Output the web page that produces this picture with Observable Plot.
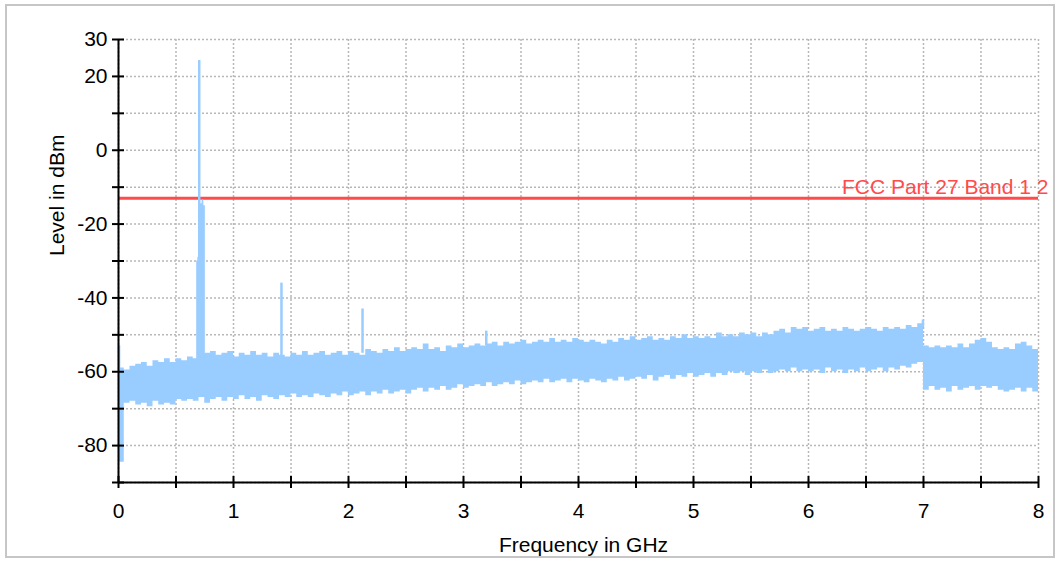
<!DOCTYPE html>
<html><head><meta charset="utf-8">
<script src="https://cdn.jsdelivr.net/npm/d3@7"></script>
<script src="https://cdn.jsdelivr.net/npm/@observablehq/plot@0.6"></script>
<style>
html,body{margin:0;padding:0;background:#fff;}
#wrap{position:relative;width:1061px;height:561px;overflow:hidden;}
#border{position:absolute;left:5px;top:4px;width:1046px;height:550px;border:2px solid #c6c6c6;pointer-events:none;z-index:2;}
#below{position:absolute;left:0;top:558px;width:1061px;height:3px;background:#fff;z-index:2;}
</style></head><body><div id="wrap"><div id="border"></div><div id="below"></div></div>
<script>
// Sample grid of the spectrum envelope (GHz), step 0.05
const freqStep = 0.05;
const freq = d3.range(0, 161).map(i => +(i * freqStep).toFixed(2));

// Upper envelope of the noise band (dBm), one value per 0.05 GHz
const upper = [
  -59, -59.5, -58.5, -58, -57.5, -58.5, -57, -57.5, -56.5, -57.5,
  -56.5, -57, -56, -56.5, -55.5, -55, -54.5, -55.5, -55, -54.5,
  -56, -55, -55.5, -54.5, -55.5, -55, -56, -55, -55.5, -56,
  -55, -55.5, -54.5, -55.5, -55, -54.5, -55.5, -55, -54.5, -55.5,
  -54.5, -55, -55.5, -54, -54.5, -55, -54, -54.5, -53.5, -54.5,
  -54, -53.5, -54, -52.5, -54, -53.5, -54.5, -53, -53.5, -52.5,
  -53.5, -53, -52.5, -53, -52.5, -52, -53, -52, -52.5, -52,
  -51.5, -52.5, -52, -51.5, -52, -51, -52, -51.5, -52, -51,
  -51.5, -52, -51.5, -52, -52.5, -51.5, -52, -51, -51.5, -50.5,
  -51.5, -51, -50.5, -51.5, -51, -51.5, -50.5, -51, -50, -51,
  -50.5, -51, -50.5, -51, -49.5, -50.5, -50, -50.5, -49.5, -50,
  -49.5, -50.5, -49.5, -50, -49, -48.5, -49.5, -48, -48.5, -48,
  -49, -48.5, -48, -49, -48.5, -49, -48, -48.5, -49, -48.5,
  -48, -48.5, -49, -48, -48.5, -48, -48.5, -47.5, -48, -47,
  -53, -53.5, -53, -53.5, -53, -53.5, -52.5, -53.5, -52.5, -51.5,
  -51, -52, -53.5, -54, -53.5, -54, -52.5, -52, -53, -54,
  -54.5
];

// Lower envelope of the noise band (dBm)
const lower = [
  -84.5, -68.5, -68, -69, -68.5, -69.5, -68, -69, -68.5, -69,
  -67.5, -68, -67.5, -68, -67, -68.5, -67.5, -67, -68, -67,
  -67.5, -66.5, -67.5, -67, -68, -66.5, -67, -67.5, -66.5, -67,
  -66, -67, -66.5, -67, -66, -66.5, -67, -66, -66.5, -65.5,
  -66.5, -66, -65.5, -66.5, -65.5, -66, -65, -66, -65.5, -65,
  -66, -65, -64.5, -65.5, -64.5, -65, -64, -65, -64.5, -63.5,
  -64.5, -64, -63.5, -64, -63, -64, -63.5, -63, -63.5, -62.5,
  -63.5, -63, -62.5, -63, -62, -63, -62.5, -62, -63, -62,
  -62.5, -63, -62, -62.5, -63, -62, -62.5, -61.5, -62.5, -62,
  -61.5, -62, -61, -62.5, -61.5, -61, -62, -61, -61.5, -60.5,
  -61.5, -61, -60.5, -61.5, -60.5, -61, -60, -60.5, -60, -61,
  -60, -60.5, -59.5, -60.5, -60, -59.5, -60, -59, -60, -59.5,
  -60, -59.5, -60.5, -59, -60, -59.5, -60.5, -59.5, -60, -59,
  -60, -59.5, -59, -60, -59, -59.5, -58.5, -59, -58, -57.5,
  -65, -64, -65, -64.5, -65.5, -64, -65, -64.5, -64, -65,
  -64, -64.5, -64, -65, -65.5, -65, -64.5, -65.5, -64.5, -65.5,
  -64.5
];

// Carrier block around 0.7 GHz
const carrierFreq = [0.680, 0.690, 0.697, 0.712, 0.727, 0.742, 0.755];
const carrierTop = [-30, -29, -14, -14.5, -13.5, -15, -57];
const carrierBottom = [-67, -67, -67, -67, -67, -67, -67];

// Narrow spurs
const spikeFreq = [0.005, 0.702, 1.417, 2.122, 3.198, 6.995];
const spikeTop = [-53, 24.3, -36, -43, -49, -46];
const spikeBase = [-60, -30, -56, -55, -53, -48];

// Limit line
const fccLimit = -13;
const fccLabel = "FCC Part 27 Band 1 2";

// Axes
const xTicks = d3.range(0, 17).map(i => i * 0.5);
const xTickLabels = [0, 1, 2, 3, 4, 5, 6, 7, 8];
const yTicks = d3.range(-90, 31, 10);
const yTickLabels = [30, 20, 0, -20, -40, -60, -80];
const xTitle = "Frequency in GHz";
const yTitle = "Level in dBm";

const band = freq.map((f, i) => ({f, lo: lower[i], hi: upper[i]}));
const carrier = carrierFreq.map((f, i) => ({f, lo: carrierBottom[i], hi: carrierTop[i]}));
const spikes = spikeFreq.map((f, i) => ({f, base: spikeBase[i], top: spikeTop[i]}));

const blue = "#99ccff";
const red = "#ff4b4b";
const gridStyle = {stroke: "#b8b8b8", strokeOpacity: 1, strokeWidth: 1.5, strokeDasharray: "2,2"};

const plot = Plot.plot({
  width: 1061, height: 561,
  marginLeft: 118, marginRight: 23, marginTop: 39, marginBottom: 79,
  style: {fontFamily: "'Liberation Sans', Arial, sans-serif", fontSize: "21px", color: "#000", background: "transparent"},
  x: {domain: [0, 8]},
  y: {domain: [-90, 30]},
  marks: [
    Plot.gridX({ticks: xTicks, ...gridStyle}),
    Plot.gridY({ticks: yTicks, ...gridStyle}),
    Plot.ruleY([fccLimit], {stroke: red, strokeWidth: 3}),
    Plot.areaY(band, {x: "f", y1: "lo", y2: "hi", curve: "step-after", fill: blue}),
    Plot.areaY(carrier, {x: "f", y1: "lo", y2: "hi", curve: "step-after", fill: blue}),
    Plot.ruleX(spikes, {x: "f", y1: "base", y2: "top", stroke: blue, strokeWidth: 2.5}),
    Plot.text([fccLabel], {x: 8, y: fccLimit, text: d => d, textAnchor: "end", dx: 10, dy: -11, fill: red}),
    Plot.ruleX([0], {stroke: "#000", strokeWidth: 2}),
    Plot.ruleY([-90], {stroke: "#000", strokeWidth: 2}),
    Plot.axisY({ticks: yTicks, tickSize: 6, tickPadding: 5, strokeWidth: 2, label: null,
      tickFormat: d => yTickLabels.includes(d) ? String(d) : ""}),
    Plot.axisY({ticks: yTicks, tickSize: 6, dx: 6, strokeWidth: 2, label: null, tickFormat: () => ""}),
    Plot.axisX({ticks: xTicks, tickSize: 6, tickPadding: 15, strokeWidth: 2, label: null,
      tickFormat: d => xTickLabels.includes(d) ? String(d) : ""}),
    Plot.axisX({ticks: xTicks, tickSize: 6, dy: -6, strokeWidth: 2, label: null, tickFormat: () => ""}),
    Plot.text([yTitle], {frameAnchor: "left", dx: -61, dy: -5, rotate: -90, text: d => d, fill: "#000"}),
    Plot.text([xTitle], {frameAnchor: "bottom", dx: 5, dy: 69, text: d => d, fill: "#000"})
  ]
});
document.getElementById("wrap").appendChild(plot);
</script>
</body></html>
